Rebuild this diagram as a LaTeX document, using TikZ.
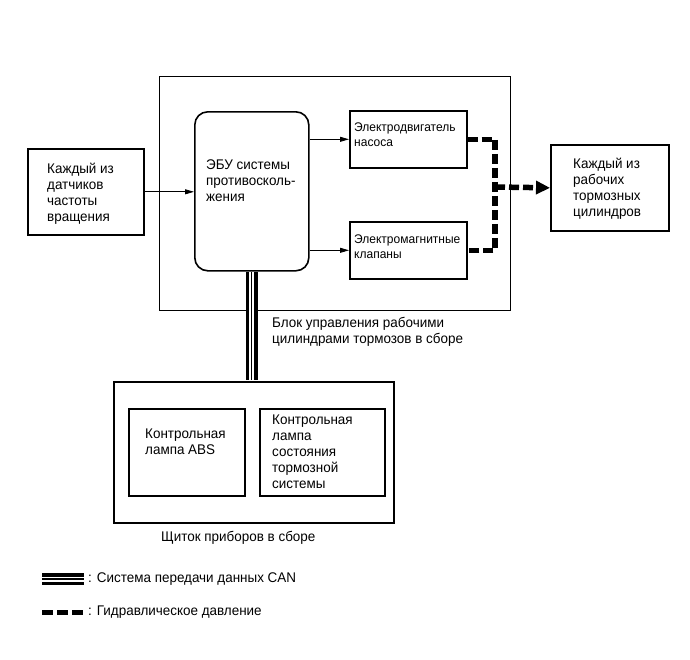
\documentclass[tikz,border=0pt]{standalone}
\usepackage{fontspec}
\setmainfont{Liberation Sans}[FakeStretch=0.96]
\usepackage{tikz}
\usetikzlibrary{arrows.meta, positioning, calc}

\tikzset{
    box/.style={draw, line width=1.6pt, inner sep=0pt, anchor=north west},
    txt/.style={font=\fontsize{14}{16}\selectfont, align=left, inner sep=0pt},
    smalltxt/.style={txt, font=\fontsize{12.5}{14.8}\selectfont},
    sig/.style={-{Triangle[length=9pt, width=5pt]}, line width=0.8pt},
    hyd/.style={line width=5.5pt, dash pattern=on 10pt off 4pt},
    can/.style={line width=12pt, postaction={draw=white, line width=5pt}, postaction={draw=black, line width=1.2pt}}
}

\begin{document}
\begin{tikzpicture}[x=1pt, y=-1pt]
            \useasboundingbox (0,0) rectangle (690,659);

            % boxes
            \node[box, line width=1.3pt, minimum width=351pt, minimum height=234pt] (block) at (159,76) {};
            \node[box, minimum width=116pt, minimum height=86pt] (sensors) at (27,148) {};
            \node[box, rounded corners=13pt, minimum width=114pt, minimum height=159pt] (ecu) at (194,111) {};
            \node[box, minimum width=117pt, minimum height=57pt] (motor) at (349,110) {};
            \node[box, minimum width=117pt, minimum height=57pt] (valves) at (349,221) {};
            \node[box, minimum width=118pt, minimum height=86pt] (cylinders) at (550,144) {};
            \node[box, minimum width=280pt, minimum height=141pt] (cluster) at (113,381) {};
            \node[box, minimum width=116pt, minimum height=87pt] (abslamp) at (128,408) {};
            \node[box, minimum width=125pt, minimum height=87pt] (brakelamp) at (259,408) {};

            % texts
            \node[txt, below right=15.3pt and 20pt of sensors.north west] (sensorstxt) {Каждый из\\датчиков\\частоты\\вращения};
            \node[txt, below right=49pt and 12pt of ecu.north west] (ecutxt) {ЭБУ системы\\противосколь-\\жения};
            \node[smalltxt, below right=13pt and 5pt of motor.north west] (motortxt) {Электродвигатель\\насоса};
            \node[smalltxt, below right=14pt and 5pt of valves.north west] (valvestxt) {Электромагнитные\\клапаны};
            \node[txt, below right=14pt and 23pt of cylinders.north west] (cylinderstxt) {Каждый из\\рабочих\\тормозных\\цилиндров};
            \node[txt, below right=6pt and 113pt of block.south west] (blocktxt) {Блок управления рабочими\\цилиндрами тормозов в сборе};
            \node[txt, below right=21pt and 17pt of abslamp.north west] (abslamptxt) {Контрольная\\лампа ABS};
            \node[txt, below right=7pt and 13pt of brakelamp.north west] (brakelamptxt) {Контрольная\\лампа\\состояния\\тормозной\\системы};
            \node[txt, below right=7pt and 48pt of cluster.south west] (clustertxt) {Щиток приборов в сборе};

            % signals
            \draw[sig] (sensors.east) -- (sensors.east -| ecu.west);
            \draw[sig] (motor.west -| ecu.east) -- (motor.west);
            \draw[sig] (valves.west -| ecu.east) -- (valves.west);

            % hydraulic pressure
            \coordinate (hydjoin) at (495,187);
            \draw[hyd] (motor.east) -| (hydjoin) |- (valves.east);
            \draw[hyd, -{Triangle[length=14pt, width=13pt]}] (hydjoin) -- (cylinders.west);

            % CAN
            \draw[can, shorten <=0.8pt, shorten >=0.8pt] (ecu.south) -- (ecu.south |- cluster.north);

            % legend
            \coordinate (canleg1) at (42,579);
            \coordinate (canleg2) at (84,579);
            \draw[can] (canleg1) -- (canleg2);
            \node[txt, anchor=west, right=4pt of canleg2] (canlegtxt) {: Система передачи данных CAN};
            \coordinate (hydleg1) at (42,612);
            \coordinate (hydleg2) at (84,612);
            \draw[hyd, line width=5pt, dash pattern=on 11pt off 4pt] (hydleg1) -- (hydleg2);
            \node[txt, anchor=west, right=4pt of hydleg2] (hydlegtxt) {: Гидравлическое давление};
        \end{tikzpicture}
\end{document}
